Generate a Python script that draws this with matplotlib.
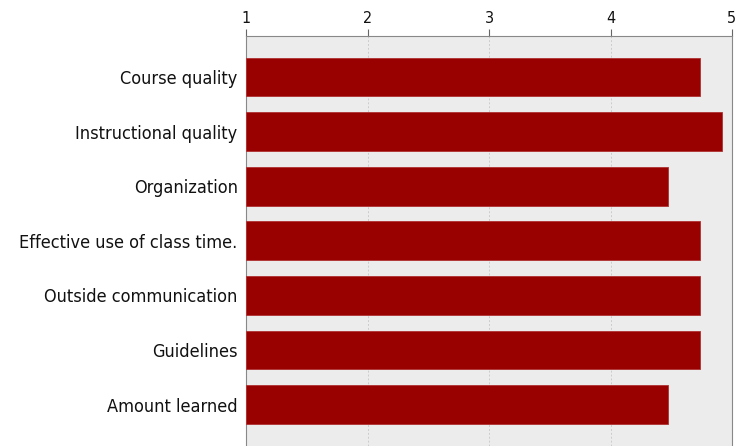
import matplotlib
matplotlib.use("Agg")
import matplotlib.pyplot as plt

categories = ["Course quality", "Instructional quality", "Organization",
              "Effective use of class time.", "Outside communication",
              "Guidelines", "Amount learned"]
values = [4.74, 4.92, 4.47, 4.74, 4.74, 4.74, 4.47]
xticks = [1, 2, 3, 4, 5]

W, H = 735, 446
fig = plt.figure(figsize=(W / 100, H / 100), dpi=100)
left, right, top, bottom = 246, 732, 36, 446
ax = fig.add_axes([left / W, 1 - bottom / H, (right - left) / W, (bottom - top) / H])
ax.set_facecolor("#ececec")

ypos = list(range(len(categories)))
ax.barh(ypos, [v - 1 for v in values], left=1, height=0.71, color="#990000",
        edgecolor="#b03030", linewidth=0.6, zorder=3)
ax.set_xlim(1, 5)
ax.set_ylim(6.76, -0.75)
ax.set_yticks(ypos)
ax.set_yticklabels(categories, fontsize=13, fontstretch="condensed", color="#111111")
ax.set_xticks(xticks)
ax.set_xticklabels([str(t) for t in xticks], fontsize=11.5, fontstretch="condensed", color="#111111")
ax.xaxis.tick_top()
ax.tick_params(axis="x", length=5, width=0.8, color="#666666", pad=2)
ax.tick_params(axis="y", length=0, pad=6)
ax.grid(axis="x", color="#cccccc", linestyle=(0, (2, 2)), linewidth=0.7, zorder=1)
for s in ["top", "left", "right"]:
    ax.spines[s].set_color("#888888")
    ax.spines[s].set_linewidth(0.8)
ax.spines["bottom"].set_visible(False)

fig.savefig("out.png", dpi=100)
